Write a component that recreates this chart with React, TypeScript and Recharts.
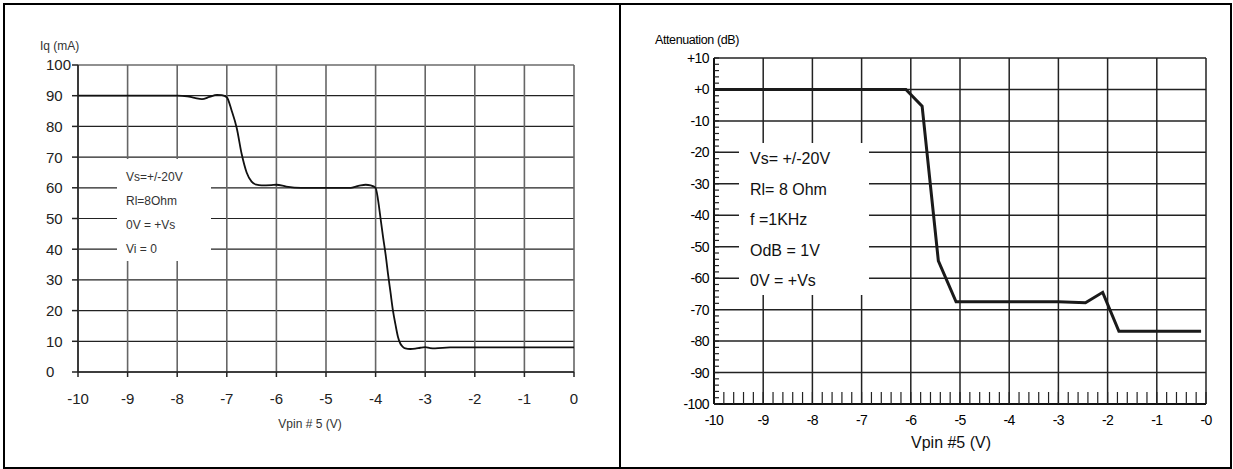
import React from 'react';
import { LineChart, Line, XAxis, YAxis, CartesianGrid } from 'recharts';

// Left panel: quiescent current vs pin 5 voltage
const iqVolts = [
  -10, -9, -8, -7.8, -7.65, -7.5, -7.35, -7.2, -7.1, -7.0, -6.9, -6.8, -6.7, -6.6, -6.5, -6.4,
  -6.3, -6.1, -6.0, -5.8, -5.5, -5, -4.5, -4.4, -4.3, -4.2, -4.1, -4.0, -3.95, -3.9, -3.85,
  -3.8, -3.75, -3.7, -3.65, -3.6, -3.55, -3.5, -3.45, -3.4, -3.3, -3.2, -3.1, -3.0, -2.9,
  -2.8, -2.5, -2, -1, 0,
];
const iqValues = [
  90, 90, 90, 89.8, 89.3, 88.9, 89.6, 90.3, 90.2, 89.5, 85, 79.5, 71, 65, 62, 61,
  60.8, 60.9, 61, 60.4, 60, 60, 60, 60.4, 60.8, 61, 60.8, 60, 56, 50, 44,
  38.5, 32, 26, 20, 15.5, 11.5, 9.2, 8.2, 7.7, 7.5, 7.6, 7.9, 8.1, 7.8,
  7.7, 8, 8, 8, 8,
];
const iqXTicks = [-10, -9, -8, -7, -6, -5, -4, -3, -2, -1, 0];
const iqYTicks = [0, 10, 20, 30, 40, 50, 60, 70, 80, 90, 100];
const iqNotes = ['Vs=+/-20V', 'Rl=8Ohm', '0V = +Vs', 'Vi = 0'];

// Right panel: attenuation vs pin 5 voltage
const attVolts = [-10, -6.1, -5.77, -5.44, -5.08, -3, -2.45, -2.1, -1.77, -0.1];
const attValues = [0, 0, -5.3, -54.5, -67.5, -67.5, -67.8, -64.5, -76.9, -76.9];
const attXTicks = [-10, -9, -8, -7, -6, -5, -4, -3, -2, -1, 0];
const attYTicks = [10, 0, -10, -20, -30, -40, -50, -60, -70, -80, -90, -100];
const attNotes = ['Vs= +/-20V', 'Rl= 8 Ohm', 'f =1KHz', 'OdB = 1V', '0V = +Vs'];

// minor tick marks of the right panel (0.2 V and 2 dB steps)
const attMinorX = Array.from({ length: 51 }, (_, i) => Math.round((-10 + i * 0.2) * 10) / 10);
const attMinorY = Array.from({ length: 56 }, (_, i) => -100 + i * 2);

const iqData = iqVolts.map((v, i) => ({ v, iq: iqValues[i] }));
const attData = attVolts.map((v, i) => ({ v, att: attValues[i] }));

const fmtAttY = (v: number) => (v > 0 ? `+${v}` : v === 0 ? '+0' : `${v}`);
const fmtAttX = (v: number) => (v === 0 ? '-0' : `${v}`);

const IqYTick = (props: any) => {
  const { x, y, payload } = props;
  return (
    <text x={x - 26} y={y} dy="0.36em" textAnchor="start" fontSize={15} fill="#222">
      {payload.value}
    </text>
  );
};

const NoLabel = () => <g />;

const abs = (left: number, top: number, extra: React.CSSProperties = {}): React.CSSProperties => ({
  position: 'absolute',
  left,
  top,
  ...extra,
});

export default function App() {
  return (
    <div
      style={{
        position: 'absolute',
        left: 0,
        top: 0,
        width: 1233,
        height: 469,
        background: '#fff',
        overflow: 'hidden',
        fontFamily: '"Liberation Sans", Arial, sans-serif',
      }}
    >
      <div style={abs(0, 0)}>
        <LineChart width={620} height={469} data={iqData} margin={{ top: 65, right: 46, bottom: 57, left: 18 }}>
          <CartesianGrid vertical={false} stroke="#222" strokeWidth={1.2} />
          <CartesianGrid horizontal={false} stroke="#666" strokeWidth={1.6} />
          <XAxis
            dataKey="v"
            type="number"
            domain={[-10, 0]}
            ticks={iqXTicks}
            interval={0}
            height={40}
            tickSize={5}
            tickMargin={16}
            stroke="#222"
            strokeWidth={1.5}
            tick={{ fontSize: 15, fill: '#222' }}
          />
          <YAxis
            type="number"
            domain={[0, 100]}
            ticks={iqYTicks}
            interval={0}
            width={60}
            tickSize={6}
            tickMargin={0}
            stroke="#222"
            strokeWidth={1.5}
            tick={<IqYTick />}
          />
          <Line
            type="monotone"
            dataKey="iq"
            stroke="#111"
            strokeWidth={1.8}
            dot={false}
            isAnimationActive={false}
          />
        </LineChart>
      </div>

      <div style={abs(620, 0)}>
        <LineChart width={613} height={469} data={attData} margin={{ top: 58, right: 27, bottom: 25, left: 34 }}>
          <CartesianGrid stroke="#222" strokeWidth={1.5} />
          <XAxis
            dataKey="v"
            type="number"
            domain={[-10, 0]}
            ticks={attXTicks}
            interval={0}
            height={40}
            tickSize={0}
            tickMargin={11}
            stroke="#111"
            strokeWidth={2}
            tickFormatter={fmtAttX}
            tick={{ fontSize: 14, fill: '#000', letterSpacing: -0.6 }}
          />
          <XAxis
            xAxisId="minor"
            dataKey="v"
            type="number"
            domain={[-10, 0]}
            ticks={attMinorX}
            interval={0}
            mirror
            height={20}
            tickSize={12}
            axisLine={false}
            tick={<NoLabel />}
            tickLine={{ stroke: '#222', strokeWidth: 1.2 }}
          />
          <YAxis
            type="number"
            domain={[-100, 10]}
            ticks={attYTicks}
            interval={0}
            width={60}
            tickSize={0}
            tickMargin={5}
            stroke="#111"
            strokeWidth={2}
            tickFormatter={fmtAttY}
            tick={{ fontSize: 14, fill: '#000', letterSpacing: -0.6 }}
          />
          <YAxis
            yAxisId="minor"
            type="number"
            domain={[-100, 10]}
            ticks={attMinorY}
            interval={0}
            mirror
            width={20}
            tickSize={5}
            axisLine={false}
            tick={<NoLabel />}
            tickLine={{ stroke: '#222', strokeWidth: 1.2 }}
          />
          {/* invisible twin so the minor axes are bound to a series */}
          <Line
            xAxisId="minor"
            yAxisId="minor"
            type="linear"
            dataKey="att"
            stroke="none"
            dot={false}
            activeDot={false}
            isAnimationActive={false}
          />
          <Line
            type="linear"
            dataKey="att"
            stroke="#1a1a1a"
            strokeWidth={3}
            dot={false}
            isAnimationActive={false}
          />
        </LineChart>
      </div>

      {/* left panel texts */}
      <div style={abs(40, 40, { fontSize: 12, lineHeight: '12px', color: '#333' })}>Iq (mA)</div>
      <div style={abs(250, 418, { width: 120, textAlign: 'center', fontSize: 12, lineHeight: '12px', color: '#333' })}>
        Vpin # 5 (V)
      </div>
      <div
        style={abs(117, 159, {
          width: 94,
          height: 102,
          background: '#fff',
          boxSizing: 'border-box',
          paddingTop: 6,
          paddingLeft: 9,
          fontSize: 12,
          lineHeight: '24px',
          color: '#333',
        })}
      >
        {iqNotes.map((t) => (
          <div key={t}>{t}</div>
        ))}
      </div>

      {/* right panel texts */}
      <div style={abs(655, 34, { fontSize: 12.5, lineHeight: '12px', color: '#000', letterSpacing: -0.4 })}>
        Attenuation (dB)
      </div>
      <div style={abs(911, 435, { fontSize: 16, lineHeight: '16px', color: '#111' })}>Vpin #5 (V)</div>
      <div
        style={abs(739, 143, {
          width: 130,
          height: 152,
          background: '#fff',
          boxSizing: 'border-box',
          paddingTop: 1,
          paddingLeft: 11,
          fontSize: 16,
          lineHeight: '30.5px',
          color: '#111',
        })}
      >
        {attNotes.map((t) => (
          <div key={t}>{t}</div>
        ))}
      </div>

      {/* frame */}
      <div style={abs(3, 3, { width: 1229, height: 466, border: '2px solid #000', boxSizing: 'border-box' })} />
      <div style={abs(619, 3, { width: 2, height: 466, background: '#000' })} />
    </div>
  );
}
